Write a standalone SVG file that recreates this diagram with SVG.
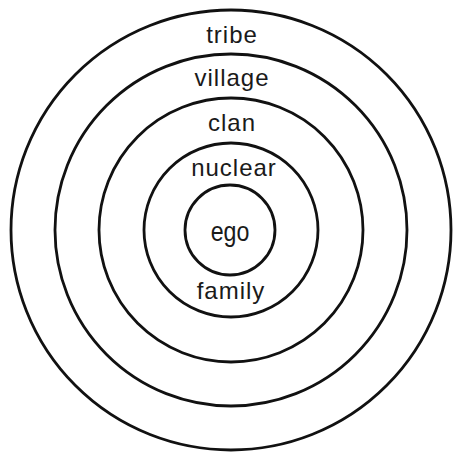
<svg xmlns="http://www.w3.org/2000/svg" width="453" height="456" viewBox="0 0 453 456">
<style>
.ring{fill:none;stroke:#111;stroke-width:2.8}
.lbl{font-family:"Liberation Sans",Arial,sans-serif;font-size:24px;fill:#1a1a1a;text-anchor:middle;letter-spacing:1px}
</style>
<rect width="453" height="456" fill="#fff"/>
<g id="tribe"><circle class="ring" cx="231" cy="230" r="220"/><text class="lbl" x="232" y="43">tribe</text></g>
<g id="village"><circle class="ring" cx="231" cy="230" r="176"/><text class="lbl" x="232" y="86">village</text></g>
<g id="clan"><circle class="ring" cx="231" cy="230" r="132"/><text class="lbl" x="232" y="131">clan</text></g>
<g id="nuclear-family"><circle class="ring" cx="231" cy="230" r="87"/><text class="lbl" x="234" y="176">nuclear</text><text class="lbl" x="231" y="299">family</text></g>
<g id="ego"><circle class="ring" cx="230" cy="230" r="45"/><text class="lbl" transform="translate(230 241) scale(0.86 1)" x="0" y="0" style="font-size:27px;letter-spacing:0">ego</text></g>
<g id="connectors"/>
</svg>
